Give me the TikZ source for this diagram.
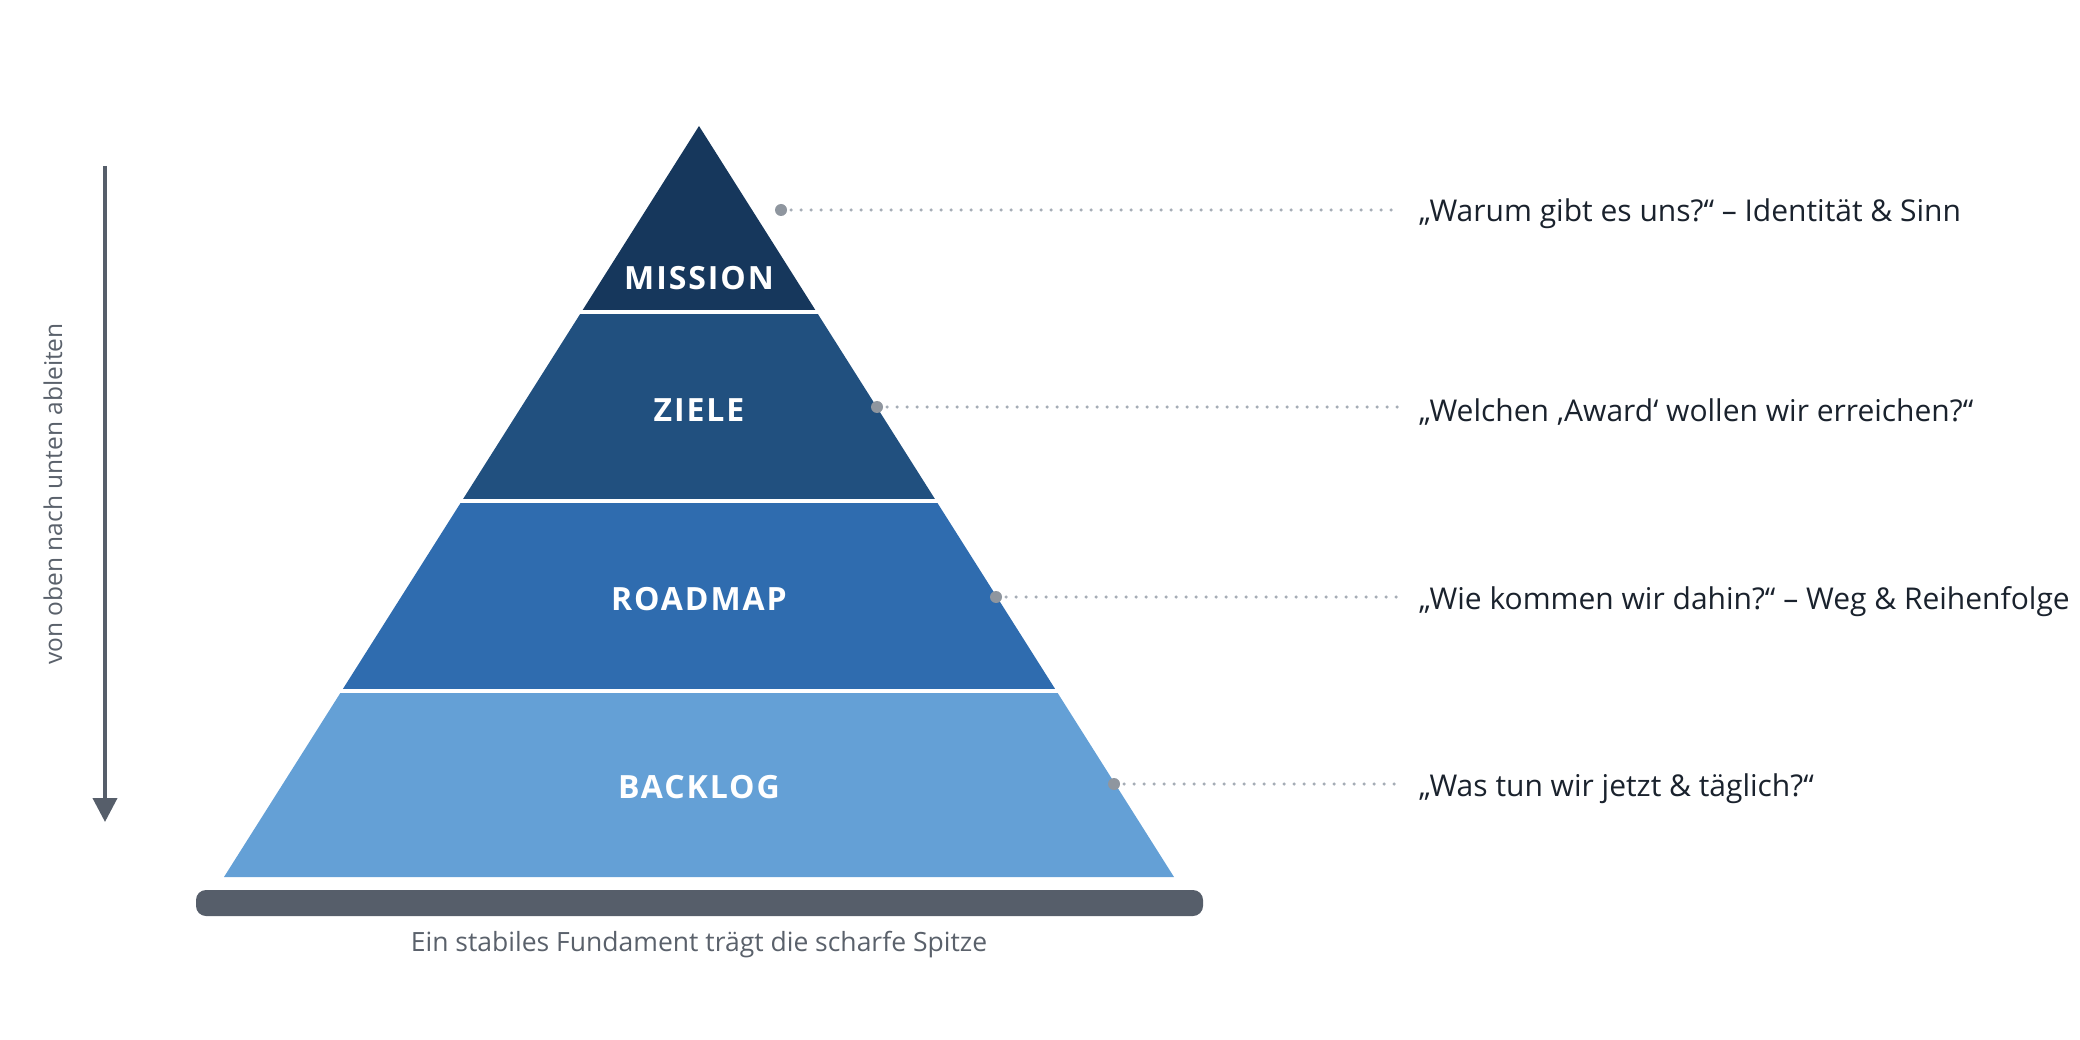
\documentclass[tikz,border=0pt]{standalone}
\usepackage{fontspec}
\setmainfont{Open Sans}
\usetikzlibrary{arrows.meta}
\definecolor{cMission}{HTML}{16375C}
\definecolor{cZiele}{HTML}{21507F}
\definecolor{cRoadmap}{HTML}{2F6CAF}
\definecolor{cBacklog}{HTML}{64A0D6}
\definecolor{cSlate}{HTML}{565E6A}
\definecolor{cDot}{HTML}{8F969F}
\definecolor{cDotLine}{HTML}{A6ADB6}
\definecolor{cText}{HTML}{1A222D}
\definecolor{cGray}{HTML}{5A616B}
\tikzset{
  layerlabel/.style={text=white, font={\fontsize{32}{38}\selectfont\bfseries\addfontfeature{LetterSpace=6}}, inner sep=0},
  question/.style={text=cText, anchor=west, inner sep=0, font={\fontsize{30}{36}\selectfont}},
  pin/.style={fill=cDot, draw=none},
  leader/.style={draw=cDotLine, line width=3.5, line cap=round, dash pattern=on 0pt off 10pt, shorten >=20pt},
  sep/.style={draw=white, line width=4},
}
\begin{document}
\begin{tikzpicture}[x=1pt,y=-1pt]
\useasboundingbox (0,0) rectangle (2080,1040);
% layers
\fill[cMission] (699,126) -- (816.6,312) -- (581.4,312) -- cycle;
\fill[cZiele] (581.4,312) -- (816.6,312) -- (936.2,501) -- (461.8,501) -- cycle;
\fill[cRoadmap] (461.8,501) -- (936.2,501) -- (1056.4,691) -- (341.6,691) -- cycle;
\fill[cBacklog] (341.6,691) -- (1056.4,691) -- (1174,877) -- (224,877) -- cycle;
\draw[sep] (580,312) -- (818,312);
\draw[sep] (460,501) -- (938,501);
\draw[sep] (340,691) -- (1058,691);
% labels
\node[layerlabel] (lMission) at (699,278) {MISSION};
\node[layerlabel] (lZiele) at (699,410) {ZIELE};
\node[layerlabel] (lRoadmap) at (699,599) {ROADMAP};
\node[layerlabel] (lBacklog) at (699,787) {BACKLOG};
% questions
\node[question] (qMission) at (1419,214) {„Warum gibt es uns?“ – Identität \& Sinn};
\node[question] (qZiele) at (1419,412) {„Welchen ‚Award‘ wollen wir erreichen?“};
\node[question] (qRoadmap) at (1419,602) {„Wie kommen wir dahin?“ – Weg \& Reihenfolge};
\node[question] (qBacklog) at (1419,789) {„Was tun wir jetzt \& täglich?“};
% pins
\coordinate (pMission) at (781,210);
\coordinate (pZiele) at (877,407);
\coordinate (pRoadmap) at (996,597);
\coordinate (pBacklog) at (1114,784);
\draw[leader] (pMission) -- (qMission.west |- pMission);
\draw[leader] (pZiele) -- (qZiele.west |- pZiele);
\draw[leader] (pRoadmap) -- (qRoadmap.west |- pRoadmap);
\draw[leader] (pBacklog) -- (qBacklog.west |- pBacklog);
\fill[pin] (pMission) circle (6);
\fill[pin] (pZiele) circle (6);
\fill[pin] (pRoadmap) circle (6);
\fill[pin] (pBacklog) circle (6);
% arrow
\coordinate (aTop) at (105,166);
\coordinate (aBot) at (105,822);
\draw[cSlate, line width=4, -{Triangle[width=24pt,length=24pt]}] (aTop) -- (aBot);
\node[rotate=90, text=cGray, font={\fontsize{24.5}{28}\selectfont}, inner sep=0] (side) at (53,494) {von oben nach unten ableiten};
% base
\fill[cSlate, rounded corners=10] (196,890) rectangle (1203,916);
\node[text=cGray, font={\fontsize{26.5}{31}\selectfont}, inner sep=0] (caption) at (699,945) {Ein stabiles Fundament trägt die scharfe Spitze};
\end{tikzpicture}
\end{document}
